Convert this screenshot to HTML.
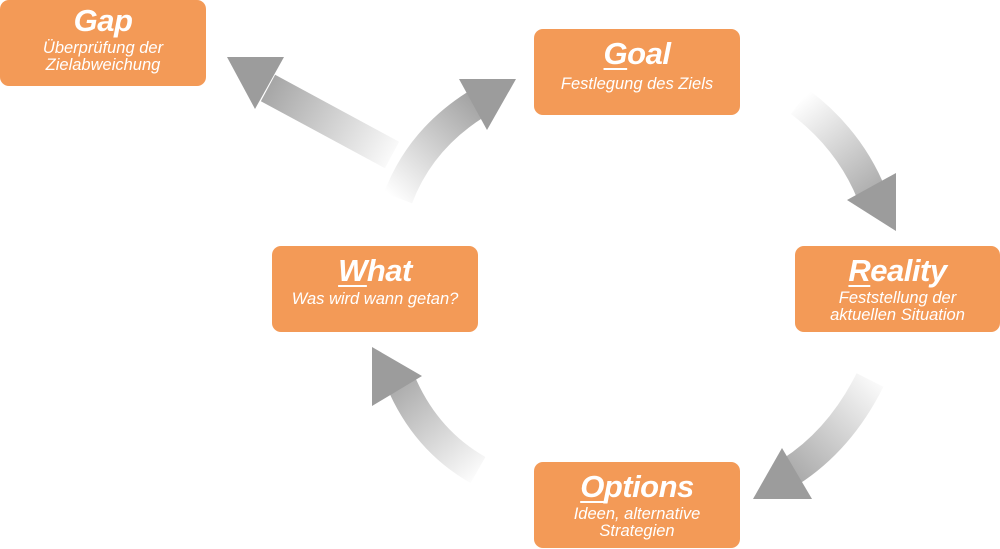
<!DOCTYPE html>
<html><head><meta charset="utf-8"><style>
body{margin:0;width:1000px;height:549px;background:#fff;position:relative;overflow:hidden;font-family:"Liberation Sans",sans-serif}
.b{position:absolute;width:206px;height:86px;background:#F39A57;border-radius:9px;color:#fff;text-align:center;font-style:italic}
.t{font-weight:bold;font-size:31px;line-height:34px;margin-top:8px;letter-spacing:-0.5px}
.t u{text-decoration:underline;text-decoration-thickness:2px;text-underline-offset:4px}
.s{font-size:16.5px;line-height:17px;margin-top:2px}
svg{position:absolute;left:0;top:0}
</style></head><body>
<svg width="1000" height="549">
<defs>
<linearGradient id="g1" gradientUnits="userSpaceOnUse" x1="400" y1="160" x2="250" y2="75"><stop offset="0" stop-color="#fff"/><stop offset="1" stop-color="#999"/></linearGradient>
<linearGradient id="g2" gradientUnits="userSpaceOnUse" x1="395" y1="200" x2="490" y2="95"><stop offset="0" stop-color="#fff"/><stop offset="1" stop-color="#999"/></linearGradient>
<linearGradient id="g3" gradientUnits="userSpaceOnUse" x1="800" y1="100" x2="890" y2="215"><stop offset="0" stop-color="#fff"/><stop offset="1" stop-color="#999"/></linearGradient>
<linearGradient id="g4" gradientUnits="userSpaceOnUse" x1="880" y1="375" x2="770" y2="490"><stop offset="0" stop-color="#fff"/><stop offset="1" stop-color="#999"/></linearGradient>
<linearGradient id="g5" gradientUnits="userSpaceOnUse" x1="485" y1="475" x2="385" y2="360"><stop offset="0" stop-color="#fff"/><stop offset="1" stop-color="#999"/></linearGradient>
</defs>
<path d="M392,155 L268,88" stroke="url(#g1)" stroke-width="30" fill="none"/>
<polygon points="227,57 284,57 255,109" fill="#9c9c9c"/>
<path d="M398,198 Q420,140 475,105" stroke="url(#g2)" stroke-width="30" fill="none"/>
<polygon points="459,79 516,79 487,130" fill="#9c9c9c"/>
<path d="M800,102 Q850,140 872,195" stroke="url(#g3)" stroke-width="30" fill="none"/>
<polygon points="847,200 896,173 896,231" fill="#9c9c9c"/>
<path d="M870,380 Q840,440 790,472" stroke="url(#g4)" stroke-width="30" fill="none"/>
<polygon points="753,499 782,448 812,499" fill="#9c9c9c"/>
<path d="M478,470 Q425,440 400,380" stroke="url(#g5)" stroke-width="30" fill="none"/>
<polygon points="372,347 422,376 372,406" fill="#9c9c9c"/>
</svg>
<div class="b" style="left:0;top:0"><div class="t" style="margin-top:4px">Gap</div><div class="s">Überprüfung der<br>Zielabweichung</div></div>
<div class="b" style="left:534px;top:29px"><div class="t"><u>G</u>oal</div><div class="s" style="margin-top:5px">Festlegung des Ziels</div></div>
<div class="b" style="left:795px;top:246px;width:205px"><div class="t"><u>R</u>eality</div><div class="s">Feststellung der<br>aktuellen Situation</div></div>
<div class="b" style="left:272px;top:246px"><div class="t"><u>W</u>hat</div><div class="s" style="margin-top:3px">Was wird wann getan?</div></div>
<div class="b" style="left:534px;top:462px"><div class="t"><u>O</u>ptions</div><div class="s">Ideen, alternative<br>Strategien</div></div>
</body></html>
